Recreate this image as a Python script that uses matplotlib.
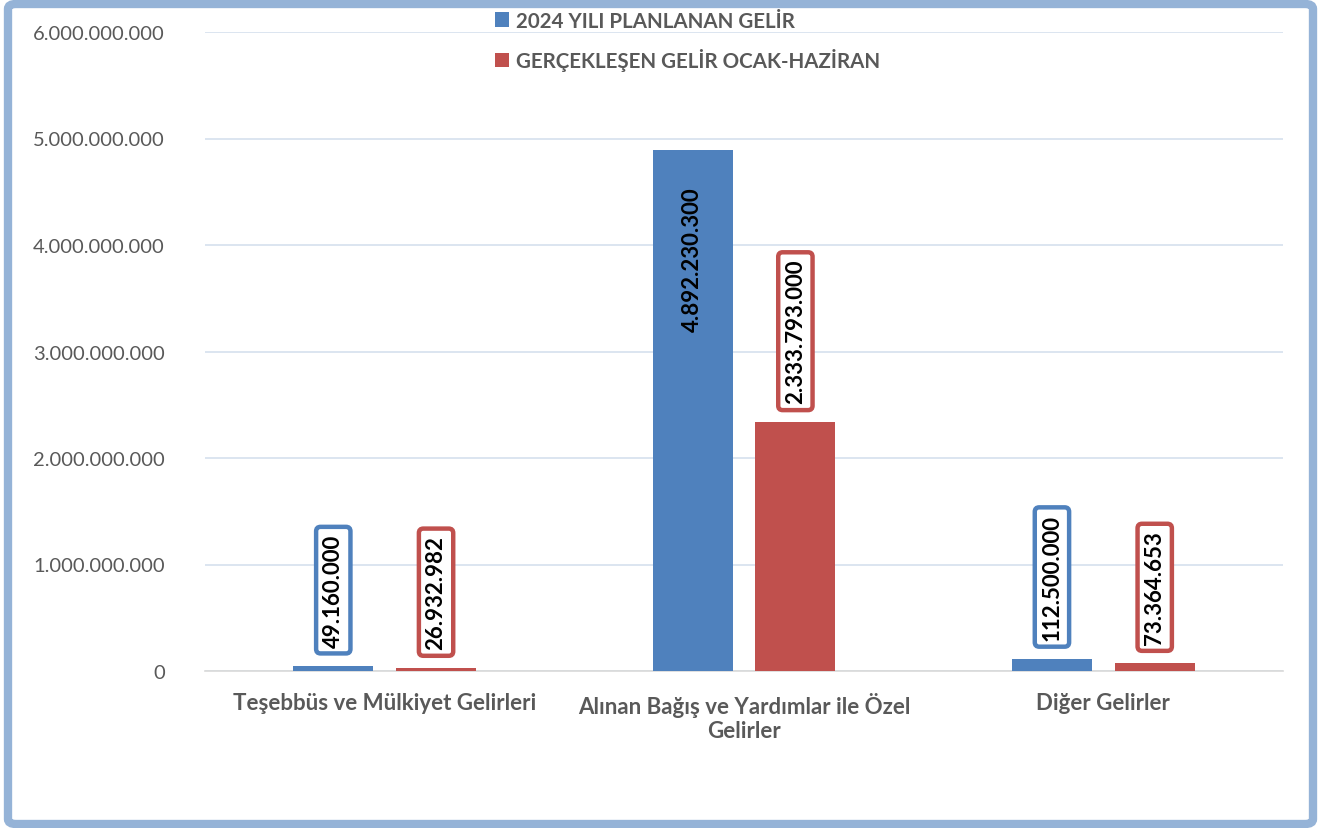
import matplotlib.pyplot as plt
import numpy as np
from matplotlib.patches import FancyBboxPatch

plt.rcParams['font.family'] = ['Lato', 'DejaVu Sans']

categories = ['Teşebbüs ve Mülkiyet Gelirleri',
              'Alınan Bağış ve Yardımlar ile Özel\nGelirler',
              'Diğer Gelirler']
planned = [49160000, 4892230300, 112500000]
realized = [26932982, 2333793000, 73364653]
series_names = ['2024 YILI PLANLANAN GELİR', 'GERÇEKLEŞEN GELİR OCAK-HAZİRAN']
yticks = [0, 1e9, 2e9, 3e9, 4e9, 5e9, 6e9]

blue = '#4F81BD'
red = '#C0504D'
gray = '#595959'


def fmt(v):
    return '{:,}'.format(int(v)).replace(',', '.')


W, H = 1328, 829
fig = plt.figure(figsize=(W / 100, H / 100), dpi=100)
ax = fig.add_axes([205 / W, 1 - 672 / H, (1283 - 205) / W, (672 - 33) / H])

x = np.arange(len(categories))
bw = 0.223
off = 0.143
ax.bar(x - off, planned, bw, color=blue, zorder=3, label=series_names[0])
ax.bar(x + off, realized, bw, color=red, zorder=3, label=series_names[1])

ax.set_xlim(-0.5, 2.5)
ax.set_ylim(0, 6e9)
ax.set_yticks(yticks)
ax.set_yticklabels([fmt(v) for v in yticks], fontsize=14.5, color=gray)
ax.set_xticks(x)
ax.set_xticklabels(categories, fontsize=16, color=gray, fontweight='bold')
ax.tick_params(axis='y', length=0, pad=29)
ax.tick_params(axis='x', length=0, pad=15)
ax.grid(axis='y', color='#D6E0EE', lw=1.2, zorder=0)
for s in ['top', 'right', 'left']:
    ax.spines[s].set_visible(False)
ax.spines['bottom'].set_color('#D9D9D9')
ax.spines['bottom'].set_linewidth(1.2)


def label(xpos, val, color, inside=False):
    if inside:
        ax.annotate(fmt(val), (xpos, val), xytext=(0, -36), textcoords='offset pixels',
                    rotation=90, ha='center', va='top', fontsize=16, fontweight='bold',
                    color='black', zorder=5)
    else:
        ax.annotate(fmt(val), (xpos, val), xytext=(0, 19), textcoords='offset pixels',
                    rotation=90, ha='center', va='bottom', fontsize=16, fontweight='bold',
                    color='black', zorder=5,
                    bbox=dict(boxstyle='round,pad=0.3,rounding_size=0.2', fc='white',
                              ec=color, lw=3.2))


for i in range(len(categories)):
    label(x[i] - off, planned[i], blue, inside=(planned[i] > 4e9))
    label(x[i] + off, realized[i], red)

fig.legend(loc='upper left', bbox_to_anchor=(476 / W, 1 + 7 / H), frameon=False,
           prop=dict(size=14.8, weight='bold'), labelcolor=gray, handlelength=0.7,
           handleheight=0.7, handletextpad=0.35, labelspacing=0.85)

border = FancyBboxPatch((8 / W, 4 / H), (1313 - 8) / W, (824 - 4) / H,
                        boxstyle='round,pad=0,rounding_size=0.006', transform=fig.transFigure,
                        fc='none', ec='#95B3D7', lw=6, zorder=10)
fig.patches.append(border)

fig.savefig('out.png', dpi=100, facecolor='white')
